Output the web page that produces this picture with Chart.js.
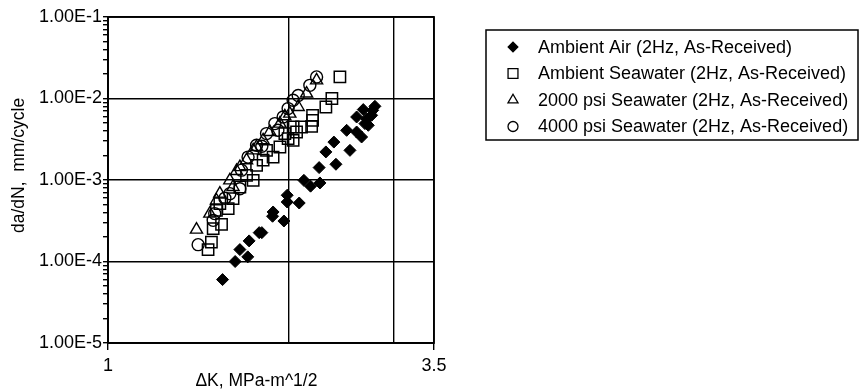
<!DOCTYPE html>
<html>
<head>
<meta charset="utf-8">
<script src="https://cdn.jsdelivr.net/npm/chart.js@4/dist/chart.umd.min.js"></script>
<style>
  body { margin: 0; background: #fff; }
  #wrap { width: 860px; height: 392px; }
</style>
</head>
<body>
<div id="wrap"><canvas id="crackChart" width="860" height="392"></canvas></div>
<script>
'use strict';

//--------> Data <--------
// Ambient Air (filled diamonds)
const airK = [1.553, 1.630, 1.660, 1.711, 1.720, 1.788, 1.806, 1.882, 1.886, 1.966, 1.991, 1.991,
  2.085, 2.123, 2.178, 2.258, 2.251, 2.310, 2.401, 2.382, 2.502, 2.534, 2.600, 2.650,
  2.600, 2.667, 2.702, 2.719, 2.754, 2.789, 2.765, 2.684];
const airRate = [6.0e-5, 1.0e-4, 1.40e-4, 1.14e-4, 1.79e-4, 2.26e-4, 2.26e-4, 3.59e-4, 4.05e-4, 3.14e-4, 6.5e-4, 5.37e-4,
  5.22e-4, 9.9e-4, 8.4e-4, 9.2e-4, 1.42e-3, 2.21e-3, 1.56e-3, 2.92e-3, 4.07e-3, 2.31e-3, 3.88e-3, 3.37e-3,
  5.93e-3, 7.31e-3, 5.66e-3, 4.69e-3, 6.22e-3, 8.02e-3, 7.16e-3, 4.92e-3];

// Ambient Seawater (open squares)
const seaK = [2.438, 2.364, 2.310, 2.195, 2.195, 2.187, 2.104, 2.064, 2.037, 1.998, 1.936, 1.886,
  1.815, 1.747, 1.703, 1.660, 1.617, 1.587, 1.547, 1.498, 1.488, 1.469, 1.537, 1.517,
  1.839, 1.770, 2.037, 1.973];
const seaRate = [1.84e-2, 1.0e-2, 7.87e-3, 6.22e-3, 5.40e-3, 4.56e-3, 4.47e-3, 3.88e-3, 3.07e-3, 3.22e-3, 2.54e-3, 1.91e-3,
  1.75e-3, 9.9e-4, 1.14e-3, 8.2e-4, 5.9e-4, 4.46e-4, 2.86e-4, 2.53e-4, 1.73e-4, 1.40e-4, 5.13e-4, 4.25e-4,
  2.31e-3, 1.51e-3, 4.47e-3, 3.71e-3];

// 2000 psi Seawater (open triangles)
const psi2000K = [1.405, 1.479, 1.537, 1.597, 1.639, 1.703, 1.747, 1.815, 1.863, 1.936, 2.011, 2.077,
  2.145, 2.229, 1.617, 1.517, 1.660, 1.770, 1.973];
const psi2000Rate = [2.46e-4, 3.87e-4, 6.8e-4, 9.9e-4, 1.29e-3, 1.75e-3, 2.31e-3, 3.07e-3, 3.88e-3, 4.92e-3, 6.53e-3, 7.87e-3,
  1.15e-2, 1.67e-2, 8.2e-4, 5.6e-4, 1.44e-3, 2.54e-3, 6.05e-3];

// 4000 psi Seawater (open circles)
const psi4000K = [1.414, 2.229, 2.172, 2.077, 2.037, 1.998, 1.960, 1.899, 1.839, 1.770, 1.713, 1.670,
  1.660, 1.597, 1.507, 1.498, 1.567, 1.806, 1.921];
const psi4000Rate = [1.61e-4, 1.84e-2, 1.45e-2, 1.09e-2, 9.5e-3, 7.52e-3, 5.93e-3, 4.92e-3, 3.71e-3, 2.67e-3, 1.91e-3, 1.32e-3,
  7.8e-4, 6.8e-4, 3.87e-4, 3.2e-4, 5.96e-4, 2.59e-3, 4.07e-3];

const seriesNames = ['Ambient Air (2Hz, As-Received)', 'Ambient Seawater (2Hz, As-Received)',
  '2000 psi Seawater (2Hz, As-Received)', '4000 psi Seawater (2Hz, As-Received)'];

// axis ticks
const xTickValues = [1, 2, 3, 3.5];
const xTickLabels = ['1', '', '', '3.5'];
const yDecades = [1e-5, 1e-4, 1e-3, 1e-2, 1e-1];
const yDecadeLabels = ['1.00E-5', '1.00E-4', '1.00E-3', '1.00E-2', '1.00E-1'];

//--------> Helpers <--------
function toPoints (xs, ys) {
  return xs.map((x, i) => ({ x: x, y: ys[i] }));
}

// minor tick marks 2..9 inside every decade
let yAllTicks = [];
for (let i = 0; i < yDecades.length; i++) {
  yAllTicks.push(yDecades[i]);
  if (i < yDecades.length - 1) {
    for (let m = 2; m <= 9; m++) yAllTicks.push(yDecades[i] * m);
  }
}
function isDecade (v) {
  return yDecades.some(d => Math.abs(v / d - 1) < 1e-6);
}

const fontFamily = '"Liberation Sans", Arial, sans-serif';
const clear = 'rgba(0,0,0,0)';

//--------> Legend + frame drawn on the canvas <--------
const legendSizes = [4.8, 7, 5.8, 5];
const boxedLegend = {
  id: 'boxedLegend',
  afterDraw (chart) {
    const ctx = chart.ctx;
    const area = chart.chartArea;
    ctx.save();
    // plot frame
    ctx.strokeStyle = '#000';
    ctx.lineWidth = 1.8;
    ctx.strokeRect(area.left, area.top, area.right - area.left, area.bottom - area.top);

    // legend box
    ctx.lineWidth = 1.5;
    ctx.strokeRect(486, 30, 372, 110);
    ctx.font = '18px ' + fontFamily;
    ctx.textBaseline = 'middle';
    chart.data.datasets.forEach((ds, i) => {
      const y = 47 + i * 26.5;
      ctx.fillStyle = ds.backgroundColor;
      ctx.strokeStyle = '#000';
      ctx.lineWidth = 1.3;
      Chart.helpers.drawPoint(ctx, { pointStyle: ds.pointStyle, radius: legendSizes[i], borderWidth: 1.3, rotation: 0 }, 513, y);
      ctx.fillStyle = '#000';
      ctx.fillText(ds.label, 538, y + 1);
    });
    ctx.restore();
  }
};

//--------> Chart <--------
const ctx = document.getElementById('crackChart').getContext('2d');
const crackChart = new Chart(ctx, {
  type: 'scatter',
  data: {
    datasets: [{
      label: seriesNames[0],
      data: toPoints(airK, airRate),
      pointStyle: 'rectRot',
      pointRadius: 6,
      backgroundColor: '#000',
      borderColor: '#000',
      pointBorderWidth: 1
    }, {
      label: seriesNames[1],
      data: toPoints(seaK, seaRate),
      pointStyle: 'rect',
      pointRadius: 8,
      backgroundColor: clear,
      borderColor: '#000',
      pointBorderWidth: 1.5
    }, {
      label: seriesNames[2],
      data: toPoints(psi2000K, psi2000Rate),
      pointStyle: 'triangle',
      pointRadius: 7,
      backgroundColor: clear,
      borderColor: '#000',
      pointBorderWidth: 1.4
    }, {
      label: seriesNames[3],
      data: toPoints(psi4000K, psi4000Rate),
      pointStyle: 'circle',
      pointRadius: 6,
      backgroundColor: clear,
      borderColor: '#000',
      pointBorderWidth: 1.4
    }]
  },
  options: {
    responsive: false,
    devicePixelRatio: 1,
    animation: false,
    events: [],
    layout: { padding: { top: 17, right: 426, bottom: 0, left: 0 } },
    plugins: {
      legend: { display: false },
      tooltip: { enabled: false }
    },
    scales: {
      x: {
        type: 'logarithmic',
        min: 1,
        max: 3.5,
        afterBuildTicks: (scale) => { scale.ticks = xTickValues.map(v => ({ value: v })); },
        afterFit: (scale) => { scale.height = 49; },
        ticks: {
          autoSkip: false,
          maxRotation: 0,
          padding: 5,
          color: '#000',
          font: { family: fontFamily, size: 18 },
          callback: (value) => {
            const i = xTickValues.indexOf(value);
            return i >= 0 ? xTickLabels[i] : '';
          }
        },
        grid: {
          color: '#000',
          lineWidth: 1.4,
          tickLength: 7,
          tickColor: (c) => (c.tick && (c.tick.value === 1 || c.tick.value === 3.5)) ? '#000' : clear
        },
        border: { color: '#000', width: 1.8 },
        title: {
          display: true,
          // trailing spaces pull the visible text left, as in the original
          text: '\u0394K, MPa-m^1/2      ',
          color: '#000',
          font: { family: fontFamily, size: 17.5 },
          padding: { top: 0, bottom: 0 }
        }
      },
      y: {
        type: 'logarithmic',
        min: 1e-5,
        max: 1e-1,
        afterBuildTicks: (scale) => { scale.ticks = yAllTicks.map(v => ({ value: v })); },
        afterFit: (scale) => { scale.width = 108; },
        ticks: {
          autoSkip: false,
          padding: 1,
          color: '#000',
          font: { family: fontFamily, size: 18 },
          callback: (value) => {
            for (let i = 0; i < yDecades.length; i++) {
              if (Math.abs(value / yDecades[i] - 1) < 1e-6) return yDecadeLabels[i];
            }
            return '';
          }
        },
        grid: {
          color: (c) => (c.tick && isDecade(c.tick.value)) ? '#000' : clear,
          lineWidth: 1.4,
          tickLength: 5,
          tickColor: '#000'
        },
        border: { color: '#000', width: 1.8 },
        title: {
          display: true,
          // leading spaces lift the visible text, as in the original
          text: '      da/dN,  mm/cycle',
          color: '#000',
          font: { family: fontFamily, size: 17.5 },
          padding: { top: 9, bottom: 0 }
        }
      }
    }
  },
  plugins: [boxedLegend]
});
</script>
</body>
</html>
